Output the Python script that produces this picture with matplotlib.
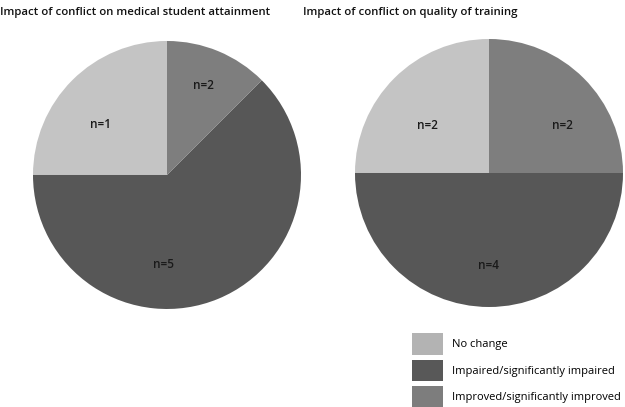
import matplotlib.pyplot as plt
from matplotlib.patches import Patch
import numpy as np

categories = ['No change', 'Impaired/significantly impaired', 'Improved/significantly improved']
colors = ['#c4c4c4', '#575757', '#7e7e7e']

# wedge sizes as drawn (the labels in the source don't match the left wedges)
attain_sizes = [2, 5, 1]
attain_labels = ['n=1', 'n=5', 'n=2']
train_sizes = [2, 4, 2]
train_labels = ['n=2', 'n=4', 'n=2']

titles = ['Impact of conflict on medical student attainment',
          'Impact of conflict on quality of training']

plt.rcParams['font.family'] = ['Open Sans', 'DejaVu Sans']

fig = plt.figure(figsize=(6.25, 4.07), dpi=100)

def draw_pie(box, sizes, labels, label_pos):
    ax = fig.add_axes(box)
    wedges, _ = ax.pie(sizes, colors=colors, startangle=90, counterclock=True,
                       radius=1, wedgeprops=dict(linewidth=0))
    for lab, (ang, dist) in zip(labels, label_pos):
        a = np.deg2rad(ang)
        ax.text(dist * np.cos(a), dist * np.sin(a), lab, ha='center', va='center',
                fontsize=8.5, fontweight='semibold', color='#1a1a1a')
    ax.set_xlim(-1, 1)
    ax.set_ylim(-1, 1)
    ax.set_aspect('equal')
    ax.axis('off')
    return ax

draw_pie([0.0528, 0.2408, 0.4288, 0.6585], attain_sizes, attain_labels,
         [(143, 0.62), (268, 0.67), (68, 0.72)])
draw_pie([0.568, 0.2457, 0.4288, 0.6585], train_sizes, train_labels,
         [(142, 0.58), (270, 0.69), (33, 0.65)])

fig.text(0.0, 1 - 13 / 407, titles[0], fontsize=8.2, fontweight='semibold',
         ha='left', va='center', color='#111111')
fig.text(303 / 625, 1 - 13 / 407, titles[1], fontsize=8.2, fontweight='semibold',
         ha='left', va='center', color='#111111')

handles = [Patch(facecolor=c, edgecolor='none') for c in ['#b3b3b3', '#585858', '#7d7d7d']]
fig.legend(handles, categories, loc='upper left', bbox_to_anchor=(409 / 625, 1 - 330 / 407),
           frameon=False, fontsize=8, handlelength=2.8, handleheight=2.6,
           labelspacing=0.45, handletextpad=0.8, borderaxespad=0, borderpad=0.3)

fig.savefig('out.png', dpi=100)
